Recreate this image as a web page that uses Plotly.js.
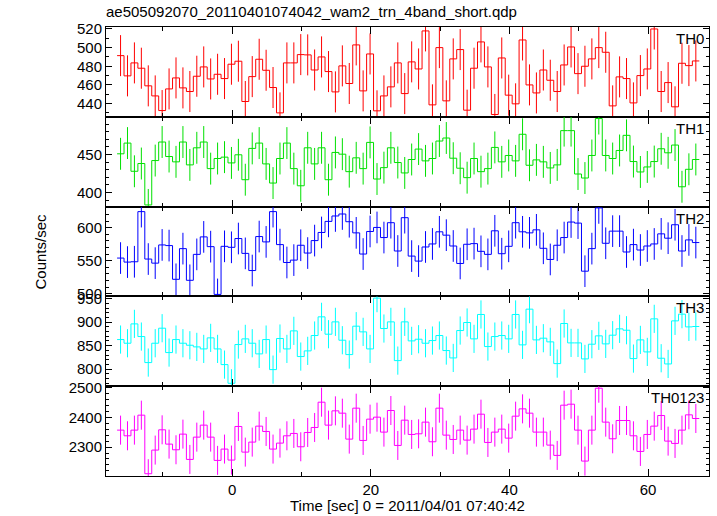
<!DOCTYPE html>
<html><head><meta charset="utf-8">
<script src="https://cdn.plot.ly/plotly-3.0.1.min.js"></script>
<style>html,body{margin:0;padding:0;background:#fff}#plot{width:717px;height:516px}</style>
</head><body><div id="plot"></div>
<script>
// Bin centers: first bin center and bin width (sec)
const firstBinCenter = -16.1;
const binWidth = 1.0;

const TH0 = [491.4,469.7,483.6,477.9,459.0,448.2,432.5,455.7,467.5,456.8,452.9,469.3,479.3,466.4,471.4,466.8,482.2,485.4,442.2,468.9,487.5,475.7,457.2,430.0,483.6,483.6,492.5,492.2,476.0,490.0,474.3,452.5,480.4,461.5,502.9,453.6,493.2,432.2,448.2,457.9,483.6,450.7,484.7,477.1,517.9,438.6,500.0,442.9,487.9,497.9,432.9,477.9,506.1,479.3,428.3,488.9,449.0,439.7,508.2,460.0,451.4,476.0,465.0,452.9,481.4,500.7,472.1,480.0,487.9,500.0,495.0,437.5,468.6,466.8,440.7,470.0,477.1,520.0,452.9,462.5,436.5,483.2,480.7,485.7];
const TH1 = [450.9,465.0,427.9,438.1,383.6,442.0,466.4,447.3,440.3,466.4,436.3,458.8,466.4,431.4,444.7,446.5,438.9,449.6,416.8,458.0,465.0,437.6,412.4,444.7,465.0,431.4,408.8,458.8,437.6,458.8,416.8,452.7,450.4,427.4,445.6,431.4,465.9,417.7,432.7,458.8,439.4,425.7,443.4,457.1,441.6,444.7,467.7,471.7,445.1,431.9,419.5,444.7,427.4,431.4,459.3,440.3,448.7,441.6,476.6,435.8,442.9,440.3,432.3,436.3,481.4,481.4,424.3,419.0,448.7,497.3,448.7,444.7,455.3,475.2,440.7,427.0,433.6,440.7,457.5,452.2,462.4,407.5,430.5,443.4];
const TH2 = [554.1,548.0,548.5,624.5,552.6,546.4,574.0,573.0,521.9,568.4,520.4,559.7,586.2,571.4,499.0,571.9,570.4,583.7,561.2,535.2,586.7,578.6,624.5,574.5,547.4,551.0,573.5,561.7,580.6,592.9,609.7,617.9,620.9,609.2,592.3,560.2,594.4,600.5,585.2,607.7,564.8,615.3,557.1,549.5,570.9,575.5,593.9,588.8,572.4,545.9,575.0,576.0,564.3,559.7,595.4,560.7,571.9,607.7,593.9,592.3,596.9,568.9,552.0,573.5,585.2,608.7,607.1,534.2,568.4,630.1,576.5,594.9,594.9,563.3,574.5,566.3,572.4,575.5,590.8,584.2,604.6,564.8,581.6,577.6];
const TH3 = [863.0,855.2,896.4,869.4,814.0,855.2,887.2,835.3,863.0,855.2,850.9,847.4,843.1,866.6,843.1,809.7,769.9,852.4,864.5,855.2,832.5,863.0,799.0,865.2,843.1,881.5,826.8,838.9,871.6,911.4,874.4,900.7,861.6,831.0,891.5,879.4,843.1,951.2,886.5,900.7,818.2,900.7,860.2,863.7,855.2,860.9,871.6,839.6,823.9,882.2,899.3,864.5,916.4,848.1,869.4,871.6,864.5,916.4,851.7,927.7,862.3,865.9,858.1,811.8,897.2,855.9,855.9,821.8,853.1,870.9,853.8,872.3,885.8,882.9,822.5,862.3,836.7,907.1,823.2,811.1,902.8,917.1,890.0,890.8];
const TH0123 = [2357.3,2338.2,2357.3,2407.9,2210.1,2289.9,2358.4,2310.1,2291.0,2343.8,2258.4,2333.7,2374.2,2333.7,2255.1,2293.3,2256.2,2369.7,2283.1,2316.9,2370.8,2352.8,2293.3,2313.5,2338.2,2346.1,2301.1,2349.4,2366.3,2451.7,2374.2,2422.5,2414.6,2327.0,2431.5,2322.5,2394.4,2401.1,2350.6,2423.6,2305.6,2391.0,2342.7,2344.9,2384.3,2318.0,2431.5,2340.4,2325.8,2357.3,2323.6,2360.7,2411.2,2315.7,2350.6,2360.7,2330.3,2404.5,2429.2,2414.6,2350.6,2350.6,2306.7,2271.9,2441.6,2444.9,2357.3,2252.8,2357.3,2498.9,2384.3,2328.1,2389.9,2389.9,2338.2,2285.4,2342.7,2370.8,2406.7,2320.2,2312.4,2357.3,2409.0,2396.6];

// Error bar half-sizes per band (counts/sec)
const errors = [22, 21, 24, 30, 49];
const bandNames = ['TH0', 'TH1', 'TH2', 'TH3', 'TH0123'];
const series = [TH0, TH1, TH2, TH3, TH0123];

// styles / layout
const colors = ['#ff0000', '#00e000', '#0000ff', '#00ffff', '#ff00ff'];
const yRanges = [[425.8, 522.1], [381.4, 499.6], [496, 632.1], [763.7, 954.9], [2202.4, 2505.7]];
const yTick0 = [440, 400, 500, 800, 2300];
const yDtick = [20, 50, 50, 50, 100];
const yMinor = [10, 10, 10, 10, 20];
const xRange = [-18.2, 68.8];
const FONT = 'Liberation Sans, Arial, Helvetica, sans-serif';

const traces = [];
const layout = {
  width: 717, height: 516,
  margin: {l: 106, r: 8, t: 27, b: 40},
  paper_bgcolor: '#fff', plot_bgcolor: '#fff',
  showlegend: false,
  font: {family: FONT, size: 15, color: '#000'},
  title: {text: 'ae505092070_20110401074042_wam2_trn_4band_short.qdp', x: 0, xref: 'paper', xanchor: 'left',
          y: 1 - 12/516, yref: 'container', yanchor: 'middle', font: {family: FONT, size: 15, color: '#000'}},
  annotations: [],
};

series.forEach((vals, k) => {
  const n = k + 1;
  const xs = vals.map((_, i) => firstBinCenter + i * binWidth);
  const edges = xs.map(x => x - binWidth / 2).concat([xs[xs.length - 1] + binWidth / 2]);
  const stepY = vals.concat([vals[vals.length - 1]]);
  const xa = n === 1 ? 'x' : 'x' + n;
  const ya = n === 1 ? 'y' : 'y' + n;
  traces.push({x: edges, y: stepY, xaxis: xa, yaxis: ya, type: 'scatter', mode: 'lines',
    line: {shape: 'hv', color: colors[k], width: 1}, hoverinfo: 'skip'});
  traces.push({x: xs, y: vals, xaxis: xa, yaxis: ya, type: 'scatter', mode: 'markers',
    marker: {size: 1, color: 'rgba(0,0,0,0)'},
    error_y: {type: 'constant', value: errors[k], width: 0, thickness: 1, color: colors[k]}, hoverinfo: 'skip'});

  const top = 1 - k / 5, bot = 1 - (k + 1) / 5;
  layout[n === 1 ? 'xaxis' : 'xaxis' + n] = {
    domain: [0, 1], anchor: ya, range: xRange, showline: true, mirror: 'ticks', linecolor: '#000', linewidth: 1,
    ticks: 'inside', ticklen: 7, tickwidth: 1, tickcolor: '#000', tick0: 0, dtick: 20,
    minor: {ticks: 'inside', ticklen: 4, tickcolor: '#000', tick0: 0, dtick: 10, showgrid: false},
    showgrid: false, zeroline: false, showticklabels: n === 5, tickfont: {family: FONT, size: 15, color: '#000'}
  };
  layout[n === 1 ? 'yaxis' : 'yaxis' + n] = {
    domain: [bot, top], anchor: xa, range: yRanges[k], showline: true, mirror: 'ticks', linecolor: '#000', linewidth: 1,
    ticks: 'inside', ticklen: 6, tickwidth: 1, tickcolor: '#000', tickmode: 'linear', tick0: yTick0[k], dtick: yDtick[k],
    minor: {ticks: 'inside', ticklen: 3, tickcolor: '#000', tick0: yTick0[k], dtick: yMinor[k], showgrid: false},
    showgrid: false, zeroline: false, tickfont: {family: FONT, size: 15, color: '#000'}
  };
  layout.annotations.push({text: bandNames[k], xref: 'paper', yref: 'paper', x: 1, y: top, xanchor: 'right', yanchor: 'top',
    xshift: -3, yshift: -1, showarrow: false, font: {family: FONT, size: 15, color: '#000'}});
});

layout.annotations.push({text: 'Counts/sec', xref: 'paper', yref: 'paper', x: (40 - 106) / 603, y: 0.5, textangle: -90,
  xanchor: 'center', yanchor: 'middle', showarrow: false, font: {family: FONT, size: 15, color: '#000'}});
layout.annotations.push({text: 'Time [sec] 0 = 2011/04/01 07:40:42', xref: 'paper', yref: 'paper', x: 0.5, y: -29 / 449,
  xanchor: 'center', yanchor: 'middle', showarrow: false, font: {family: FONT, size: 15, color: '#000'}});

Plotly.newPlot('plot', traces, layout, {staticPlot: true, displayModeBar: false});
</script>
</body></html>
